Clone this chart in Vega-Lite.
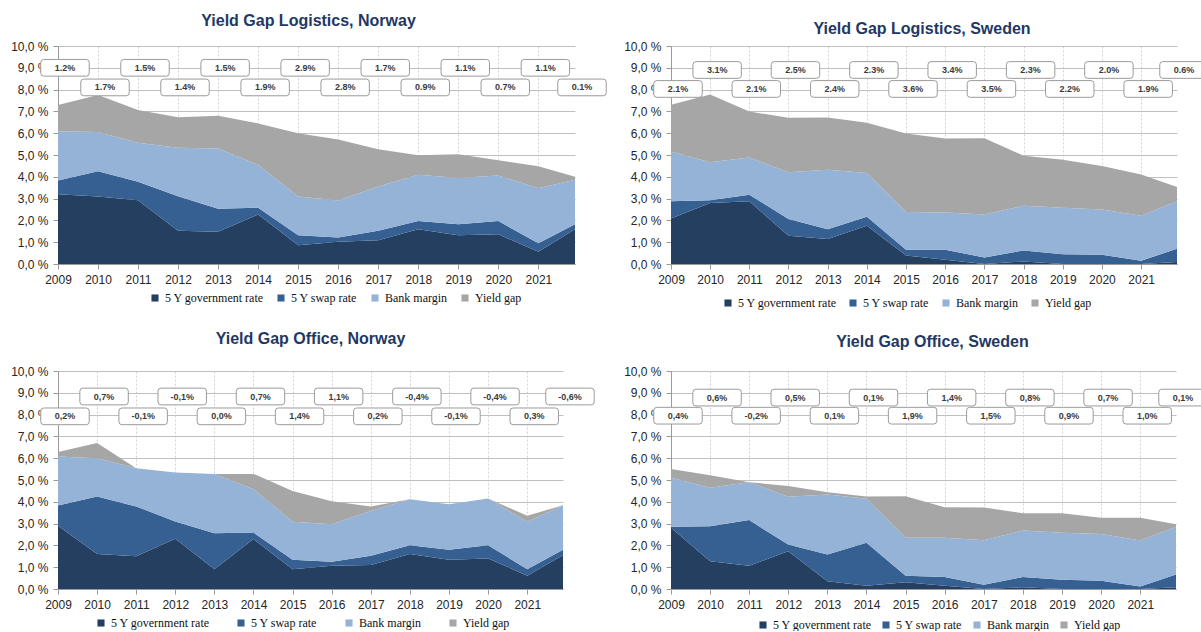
{
  "$schema": "https://vega.github.io/schema/vega-lite/v6.json",
  "background": "white",
  "padding": {"left": 10, "top": 13, "right": 0, "bottom": 0},
  "columns": 2,
  "spacing": {"row": 107, "column": 96},
  "bounds": "flush",
  "resolve": {"scale": {"color": "independent"}},
  "datasets": {
    "logNO": [
      {"date": "2009-01-01", "gov": 3.2, "swap": 0.63, "bank": 2.26, "gap": 1.2, "label": "1.2%"},
      {"date": "2010-01-01", "gov": 3.1, "swap": 1.16, "bank": 1.79, "gap": 1.7, "label": "1.7%"},
      {"date": "2011-01-01", "gov": 2.92, "swap": 0.85, "bank": 1.79, "gap": 1.5, "label": "1.5%"},
      {"date": "2012-01-01", "gov": 1.53, "swap": 1.58, "bank": 2.22, "gap": 1.4, "label": "1.4%"},
      {"date": "2013-01-01", "gov": 1.48, "swap": 1.05, "bank": 2.77, "gap": 1.5, "label": "1.5%"},
      {"date": "2014-01-01", "gov": 2.27, "swap": 0.31, "bank": 1.97, "gap": 1.9, "label": "1.9%"},
      {"date": "2015-01-01", "gov": 0.86, "swap": 0.46, "bank": 1.78, "gap": 2.9, "label": "2.9%"},
      {"date": "2016-01-01", "gov": 1.02, "swap": 0.19, "bank": 1.7, "gap": 2.8, "label": "2.8%"},
      {"date": "2017-01-01", "gov": 1.09, "swap": 0.43, "bank": 2.04, "gap": 1.7, "label": "1.7%"},
      {"date": "2018-01-01", "gov": 1.59, "swap": 0.38, "bank": 2.12, "gap": 0.9, "label": "0.9%"},
      {"date": "2019-01-01", "gov": 1.32, "swap": 0.5, "bank": 2.12, "gap": 1.1, "label": "1.1%"},
      {"date": "2020-01-01", "gov": 1.36, "swap": 0.61, "bank": 2.09, "gap": 0.7, "label": "0.7%"},
      {"date": "2021-01-01", "gov": 0.56, "swap": 0.39, "bank": 2.53, "gap": 1.0, "label": "1.1%"},
      {"date": "2021-12-01", "gov": 1.59, "swap": 0.23, "bank": 2.04, "gap": 0.14, "label": "0.1%"}
    ],
    "logSE": [
      {"date": "2009-01-01", "gov": 2.09, "swap": 0.79, "bank": 2.28, "gap": 2.15, "label": "2.1%"},
      {"date": "2010-01-01", "gov": 2.8, "swap": 0.12, "bank": 1.75, "gap": 3.1, "label": "3.1%"},
      {"date": "2011-01-01", "gov": 2.88, "swap": 0.3, "bank": 1.71, "gap": 2.1, "label": "2.1%"},
      {"date": "2012-01-01", "gov": 1.3, "swap": 0.76, "bank": 2.15, "gap": 2.5, "label": "2.5%"},
      {"date": "2013-01-01", "gov": 1.15, "swap": 0.44, "bank": 2.73, "gap": 2.4, "label": "2.4%"},
      {"date": "2014-01-01", "gov": 1.76, "swap": 0.41, "bank": 2.01, "gap": 2.3, "label": "2.3%"},
      {"date": "2015-01-01", "gov": 0.39, "swap": 0.26, "bank": 1.74, "gap": 3.6, "label": "3.6%"},
      {"date": "2016-01-01", "gov": 0.2, "swap": 0.45, "bank": 1.71, "gap": 3.4, "label": "3.4%"},
      {"date": "2017-01-01", "gov": 0.0, "swap": 0.3, "bank": 1.97, "gap": 3.5, "label": "3.5%"},
      {"date": "2018-01-01", "gov": 0.12, "swap": 0.5, "bank": 2.05, "gap": 2.3, "label": "2.3%"},
      {"date": "2019-01-01", "gov": 0.0, "swap": 0.45, "bank": 2.13, "gap": 2.2, "label": "2.2%"},
      {"date": "2020-01-01", "gov": 0.0, "swap": 0.42, "bank": 2.08, "gap": 2.0, "label": "2.0%"},
      {"date": "2021-01-01", "gov": 0.0, "swap": 0.15, "bank": 2.06, "gap": 1.9, "label": "1.9%"},
      {"date": "2021-12-01", "gov": 0.09, "swap": 0.61, "bank": 2.18, "gap": 0.65, "label": "0.6%"}
    ],
    "offNO": [
      {"date": "2009-01-01", "gov": 2.9, "swap": 0.93, "bank": 2.25, "gap": 0.2, "label": "0,2%"},
      {"date": "2010-01-01", "gov": 1.6, "swap": 2.64, "bank": 1.76, "gap": 0.7, "label": "0,7%"},
      {"date": "2011-01-01", "gov": 1.5, "swap": 2.29, "bank": 1.75, "gap": 0.0, "label": "-0,1%"},
      {"date": "2012-01-01", "gov": 2.3, "swap": 0.8, "bank": 2.24, "gap": 0.0, "label": "-0,1%"},
      {"date": "2013-01-01", "gov": 0.91, "swap": 1.65, "bank": 2.72, "gap": 0.0, "label": "0,0%"},
      {"date": "2014-01-01", "gov": 2.29, "swap": 0.3, "bank": 1.99, "gap": 0.7, "label": "0,7%"},
      {"date": "2015-01-01", "gov": 0.91, "swap": 0.43, "bank": 1.75, "gap": 1.4, "label": "1,4%"},
      {"date": "2016-01-01", "gov": 1.07, "swap": 0.18, "bank": 1.72, "gap": 1.05, "label": "1,1%"},
      {"date": "2017-01-01", "gov": 1.1, "swap": 0.42, "bank": 2.06, "gap": 0.2, "label": "0,2%"},
      {"date": "2018-01-01", "gov": 1.6, "swap": 0.41, "bank": 2.11, "gap": 0.0, "label": "-0,4%"},
      {"date": "2019-01-01", "gov": 1.34, "swap": 0.46, "bank": 2.09, "gap": 0.0, "label": "-0,1%"},
      {"date": "2020-01-01", "gov": 1.4, "swap": 0.61, "bank": 2.14, "gap": 0.0, "label": "-0,4%"},
      {"date": "2021-01-01", "gov": 0.61, "swap": 0.3, "bank": 2.17, "gap": 0.28, "label": "0,3%"},
      {"date": "2021-12-01", "gov": 1.55, "swap": 0.25, "bank": 2.04, "gap": 0.0, "label": "-0,6%"}
    ],
    "offSE": [
      {"date": "2009-01-01", "gov": 2.81, "swap": 0.05, "bank": 2.24, "gap": 0.4, "label": "0,4%"},
      {"date": "2010-01-01", "gov": 1.27, "swap": 1.61, "bank": 1.77, "gap": 0.57, "label": "0,6%"},
      {"date": "2011-01-01", "gov": 1.07, "swap": 2.09, "bank": 1.74, "gap": 0.0, "label": "-0,2%"},
      {"date": "2012-01-01", "gov": 1.73, "swap": 0.31, "bank": 2.19, "gap": 0.5, "label": "0,5%"},
      {"date": "2013-01-01", "gov": 0.35, "swap": 1.23, "bank": 2.76, "gap": 0.1, "label": "0,1%"},
      {"date": "2014-01-01", "gov": 0.15, "swap": 1.97, "bank": 2.02, "gap": 0.1, "label": "0,1%"},
      {"date": "2015-01-01", "gov": 0.31, "swap": 0.3, "bank": 1.74, "gap": 1.9, "label": "1,9%"},
      {"date": "2016-01-01", "gov": 0.15, "swap": 0.4, "bank": 1.8, "gap": 1.4, "label": "1,4%"},
      {"date": "2017-01-01", "gov": 0.0, "swap": 0.2, "bank": 2.04, "gap": 1.5, "label": "1,5%"},
      {"date": "2018-01-01", "gov": 0.08, "swap": 0.47, "bank": 2.13, "gap": 0.8, "label": "0,8%"},
      {"date": "2019-01-01", "gov": 0.0, "swap": 0.43, "bank": 2.15, "gap": 0.9, "label": "0,9%"},
      {"date": "2020-01-01", "gov": 0.0, "swap": 0.38, "bank": 2.14, "gap": 0.75, "label": "0,7%"},
      {"date": "2021-01-01", "gov": 0.0, "swap": 0.12, "bank": 2.1, "gap": 1.05, "label": "1,0%"},
      {"date": "2021-12-01", "gov": 0.08, "swap": 0.58, "bank": 2.19, "gap": 0.12, "label": "0,1%"}
    ]
  },
  "concat": [
    {
      "width": 517, "height": 218,
      "title": {"text": "Yield Gap Logistics, Norway", "offset": 11, "dx": -8},
      "data": {"name": "logNO"},
      "layer": [
        {
          "transform": [
            {"fold": ["gov", "swap", "bank", "gap"], "as": ["series", "value"]},
            {"calculate": "indexof(['gov','swap','bank','gap'], datum.series)", "as": "ord"}
          ],
          "mark": {"type": "area", "opacity": 1},
          "encoding": {
            "x": {"field": "date", "type": "temporal", "scale": {"type": "utc", "nice": false}, "axis": {"title": null, "format": "%Y", "tickCount": {"interval": "year", "step": 1}, "grid": true}},
            "y": {"field": "value", "type": "quantitative", "stack": "zero", "scale": {"domain": [0, 10], "nice": false}, "axis": {"title": null, "values": [0,1,2,3,4,5,6,7,8,9,10], "labelExpr": "replace(format(datum.value, '.1f'), '.', ',') + ' %'", "grid": true}},
            "color": {"field": "series", "type": "nominal", "scale": {"domain": ["gov", "swap", "bank", "gap"], "range": ["#243F60", "#376092", "#95B3D7", "#A6A6A6"]}, "legend": {"orient": "none", "legendX": 91, "legendY": 246, "direction": "horizontal", "title": null, "columnPadding": 11, "labelExpr": "datum.label == 'gov' ? '5 Y government rate' : datum.label == 'swap' ? '5 Y swap rate' : datum.label == 'bank' ? 'Bank margin' : 'Yield gap'"}},
            "order": {"field": "ord", "type": "quantitative"}
          }
        },
        {
          "transform": [
            {"window": [{"op": "row_number", "as": "rn"}], "sort": [{"field": "date"}]},
            {"calculate": "datum.rn % 2 == 1 ? 9.0 : 8.1", "as": "ly"}
          ],
          "layer": [
            {"mark": {"type": "point", "shape": "M-1.27,-0.5H1.27Q1.45,-0.5 1.45,-0.32V0.32Q1.45,0.5 1.27,0.5H-1.27Q-1.45,0.5 -1.45,0.32V-0.32Q-1.45,-0.5 -1.27,-0.5Z", "size": 1116, "filled": true, "fill": "white", "stroke": "#9b9b9b", "strokeWidth": 1, "opacity": 1, "xOffset": 7},
             "encoding": {
               "x": {"field": "date", "type": "temporal", "axis": {"title": null, "format": "%Y", "tickCount": {"interval": "year", "step": 1}, "grid": true}},
               "y": {"field": "ly", "type": "quantitative", "axis": {"title": null, "values": [0,1,2,3,4,5,6,7,8,9,10], "labelExpr": "replace(format(datum.value, '.1f'), '.', ',') + ' %'", "grid": true}}}},
            {"mark": {"type": "text", "font": "Liberation Sans", "fontWeight": "bold", "fontSize": 9, "color": "#3a3a3a", "dx": 7, "align": "center", "baseline": "middle"},
             "encoding": {
               "x": {"field": "date", "type": "temporal", "axis": {"title": null, "format": "%Y", "tickCount": {"interval": "year", "step": 1}, "grid": true}},
               "y": {"field": "ly", "type": "quantitative", "axis": {"title": null, "values": [0,1,2,3,4,5,6,7,8,9,10], "labelExpr": "replace(format(datum.value, '.1f'), '.', ',') + ' %'", "grid": true}},
               "text": {"field": "label"}}}
          ]
        }
      ]
    },
    {
      "width": 506, "height": 218,
      "title": {"text": "Yield Gap Logistics, Sweden", "offset": 3, "dx": -2},
      "data": {"name": "logSE"},
      "layer": [
        {
          "transform": [
            {"fold": ["gov", "swap", "bank", "gap"], "as": ["series", "value"]},
            {"calculate": "indexof(['gov','swap','bank','gap'], datum.series)", "as": "ord"}
          ],
          "mark": {"type": "area", "opacity": 1},
          "encoding": {
            "x": {"field": "date", "type": "temporal", "scale": {"type": "utc", "nice": false}, "axis": {"title": null, "format": "%Y", "tickCount": {"interval": "year", "step": 1}, "grid": true}},
            "y": {"field": "value", "type": "quantitative", "stack": "zero", "scale": {"domain": [0, 10], "nice": false}, "axis": {"title": null, "values": [0,1,2,3,4,5,6,7,8,9,10], "labelExpr": "replace(format(datum.value, '.1f'), '.', ',') + ' %'", "grid": true}},
            "color": {"field": "series", "type": "nominal", "scale": {"domain": ["gov", "swap", "bank", "gap"], "range": ["#243F60", "#376092", "#95B3D7", "#A6A6A6"]}, "legend": {"orient": "none", "legendX": 51, "legendY": 251, "direction": "horizontal", "title": null, "columnPadding": 10, "labelExpr": "datum.label == 'gov' ? '5 Y government rate' : datum.label == 'swap' ? '5 Y swap rate' : datum.label == 'bank' ? 'Bank margin' : 'Yield gap'"}},
            "order": {"field": "ord", "type": "quantitative"}
          }
        },
        {
          "transform": [
            {"window": [{"op": "row_number", "as": "rn"}], "sort": [{"field": "date"}]},
            {"calculate": "datum.rn % 2 == 1 ? 8.03 : 8.9", "as": "ly"}
          ],
          "layer": [
            {"mark": {"type": "point", "shape": "M-1.27,-0.5H1.27Q1.45,-0.5 1.45,-0.32V0.32Q1.45,0.5 1.27,0.5H-1.27Q-1.45,0.5 -1.45,0.32V-0.32Q-1.45,-0.5 -1.27,-0.5Z", "size": 1116, "filled": true, "fill": "white", "stroke": "#9b9b9b", "strokeWidth": 1, "opacity": 1, "xOffset": 7},
             "encoding": {
               "x": {"field": "date", "type": "temporal", "axis": {"title": null, "format": "%Y", "tickCount": {"interval": "year", "step": 1}, "grid": true}},
               "y": {"field": "ly", "type": "quantitative", "axis": {"title": null, "values": [0,1,2,3,4,5,6,7,8,9,10], "labelExpr": "replace(format(datum.value, '.1f'), '.', ',') + ' %'", "grid": true}}}},
            {"mark": {"type": "text", "font": "Liberation Sans", "fontWeight": "bold", "fontSize": 9, "color": "#3a3a3a", "dx": 7, "align": "center", "baseline": "middle"},
             "encoding": {
               "x": {"field": "date", "type": "temporal", "axis": {"title": null, "format": "%Y", "tickCount": {"interval": "year", "step": 1}, "grid": true}},
               "y": {"field": "ly", "type": "quantitative", "axis": {"title": null, "values": [0,1,2,3,4,5,6,7,8,9,10], "labelExpr": "replace(format(datum.value, '.1f'), '.', ',') + ' %'", "grid": true}},
               "text": {"field": "label"}}}
          ]
        }
      ]
    },
    {
      "width": 505, "height": 218,
      "title": {"text": "Yield Gap Office, Norway", "offset": 18, "dx": 0},
      "data": {"name": "offNO"},
      "layer": [
        {
          "transform": [
            {"fold": ["gov", "swap", "bank", "gap"], "as": ["series", "value"]},
            {"calculate": "indexof(['gov','swap','bank','gap'], datum.series)", "as": "ord"}
          ],
          "mark": {"type": "area", "opacity": 1},
          "encoding": {
            "x": {"field": "date", "type": "temporal", "scale": {"type": "utc", "nice": false}, "axis": {"title": null, "format": "%Y", "tickCount": {"interval": "year", "step": 1}, "grid": true}},
            "y": {"field": "value", "type": "quantitative", "stack": "zero", "scale": {"domain": [0, 10], "nice": false}, "axis": {"title": null, "values": [0,1,2,3,4,5,6,7,8,9,10], "labelExpr": "replace(format(datum.value, '.1f'), '.', ',') + ' %'", "grid": true}},
            "color": {"field": "series", "type": "nominal", "scale": {"domain": ["gov", "swap", "bank", "gap"], "range": ["#243F60", "#376092", "#95B3D7", "#A6A6A6"]}, "legend": {"orient": "none", "legendX": 37, "legendY": 246, "direction": "horizontal", "title": null, "columnPadding": 25, "labelExpr": "datum.label == 'gov' ? '5 Y government rate' : datum.label == 'swap' ? '5 Y swap rate' : datum.label == 'bank' ? 'Bank margin' : 'Yield gap'"}},
            "order": {"field": "ord", "type": "quantitative"}
          }
        },
        {
          "transform": [
            {"window": [{"op": "row_number", "as": "rn"}], "sort": [{"field": "date"}]},
            {"calculate": "datum.rn % 2 == 1 ? 7.92 : 8.83", "as": "ly"}
          ],
          "layer": [
            {"mark": {"type": "point", "shape": "M-1.27,-0.5H1.27Q1.45,-0.5 1.45,-0.32V0.32Q1.45,0.5 1.27,0.5H-1.27Q-1.45,0.5 -1.45,0.32V-0.32Q-1.45,-0.5 -1.27,-0.5Z", "size": 1116, "filled": true, "fill": "white", "stroke": "#9b9b9b", "strokeWidth": 1, "opacity": 1, "xOffset": 7},
             "encoding": {
               "x": {"field": "date", "type": "temporal", "axis": {"title": null, "format": "%Y", "tickCount": {"interval": "year", "step": 1}, "grid": true}},
               "y": {"field": "ly", "type": "quantitative", "axis": {"title": null, "values": [0,1,2,3,4,5,6,7,8,9,10], "labelExpr": "replace(format(datum.value, '.1f'), '.', ',') + ' %'", "grid": true}}}},
            {"mark": {"type": "text", "font": "Liberation Sans", "fontWeight": "bold", "fontSize": 9, "color": "#3a3a3a", "dx": 7, "align": "center", "baseline": "middle"},
             "encoding": {
               "x": {"field": "date", "type": "temporal", "axis": {"title": null, "format": "%Y", "tickCount": {"interval": "year", "step": 1}, "grid": true}},
               "y": {"field": "ly", "type": "quantitative", "axis": {"title": null, "values": [0,1,2,3,4,5,6,7,8,9,10], "labelExpr": "replace(format(datum.value, '.1f'), '.', ',') + ' %'", "grid": true}},
               "text": {"field": "label"}}}
          ]
        }
      ]
    },
    {
      "width": 505, "height": 218,
      "title": {"text": "Yield Gap Office, Sweden", "offset": 15, "dx": 9},
      "data": {"name": "offSE"},
      "layer": [
        {
          "transform": [
            {"fold": ["gov", "swap", "bank", "gap"], "as": ["series", "value"]},
            {"calculate": "indexof(['gov','swap','bank','gap'], datum.series)", "as": "ord"}
          ],
          "mark": {"type": "area", "opacity": 1},
          "encoding": {
            "x": {"field": "date", "type": "temporal", "scale": {"type": "utc", "nice": false}, "axis": {"title": null, "format": "%Y", "tickCount": {"interval": "year", "step": 1}, "grid": true}},
            "y": {"field": "value", "type": "quantitative", "stack": "zero", "scale": {"domain": [0, 10], "nice": false}, "axis": {"title": null, "values": [0,1,2,3,4,5,6,7,8,9,10], "labelExpr": "replace(format(datum.value, '.1f'), '.', ',') + ' %'", "grid": true}},
            "color": {"field": "series", "type": "nominal", "scale": {"domain": ["gov", "swap", "bank", "gap"], "range": ["#243F60", "#376092", "#95B3D7", "#A6A6A6"]}, "legend": {"orient": "none", "legendX": 86, "legendY": 248, "direction": "horizontal", "title": null, "columnPadding": 8, "labelExpr": "datum.label == 'gov' ? '5 Y government rate' : datum.label == 'swap' ? '5 Y swap rate' : datum.label == 'bank' ? 'Bank margin' : 'Yield gap'"}},
            "order": {"field": "ord", "type": "quantitative"}
          }
        },
        {
          "transform": [
            {"window": [{"op": "row_number", "as": "rn"}], "sort": [{"field": "date"}]},
            {"calculate": "datum.rn % 2 == 1 ? 7.95 : 8.78", "as": "ly"}
          ],
          "layer": [
            {"mark": {"type": "point", "shape": "M-1.27,-0.5H1.27Q1.45,-0.5 1.45,-0.32V0.32Q1.45,0.5 1.27,0.5H-1.27Q-1.45,0.5 -1.45,0.32V-0.32Q-1.45,-0.5 -1.27,-0.5Z", "size": 1116, "filled": true, "fill": "white", "stroke": "#9b9b9b", "strokeWidth": 1, "opacity": 1, "xOffset": 7},
             "encoding": {
               "x": {"field": "date", "type": "temporal", "axis": {"title": null, "format": "%Y", "tickCount": {"interval": "year", "step": 1}, "grid": true}},
               "y": {"field": "ly", "type": "quantitative", "axis": {"title": null, "values": [0,1,2,3,4,5,6,7,8,9,10], "labelExpr": "replace(format(datum.value, '.1f'), '.', ',') + ' %'", "grid": true}}}},
            {"mark": {"type": "text", "font": "Liberation Sans", "fontWeight": "bold", "fontSize": 9, "color": "#3a3a3a", "dx": 7, "align": "center", "baseline": "middle"},
             "encoding": {
               "x": {"field": "date", "type": "temporal", "axis": {"title": null, "format": "%Y", "tickCount": {"interval": "year", "step": 1}, "grid": true}},
               "y": {"field": "ly", "type": "quantitative", "axis": {"title": null, "values": [0,1,2,3,4,5,6,7,8,9,10], "labelExpr": "replace(format(datum.value, '.1f'), '.', ',') + ' %'", "grid": true}},
               "text": {"field": "label"}}}
          ]
        }
      ]
    }
  ],
  "config": {
    "view": {"stroke": null},
    "font": "Liberation Sans",
    "axis": {"labelFont": "Liberation Sans", "labelFontSize": 12, "labelColor": "#262626", "domainColor": "#9a9a9a", "tickColor": "#9a9a9a", "tickSize": 5, "labelOverlap": false},
    "axisX": {"gridColor": "#d0d0d0", "gridDash": [2, 2], "labelPadding": 5, "labelFlush": false},
    "axisY": {"gridColor": "#bfbfbf", "labelPadding": 5},
    "legend": {"labelFont": "Liberation Serif", "labelFontSize": 12, "labelColor": "#111111", "symbolType": "square", "symbolSize": 50, "symbolStrokeWidth": 0, "labelOffset": 4, "padding": 0},
    "title": {"font": "Liberation Sans", "fontSize": 16, "fontWeight": "bold", "color": "#1F3864", "anchor": "middle", "frame": "group"}
  }
}
